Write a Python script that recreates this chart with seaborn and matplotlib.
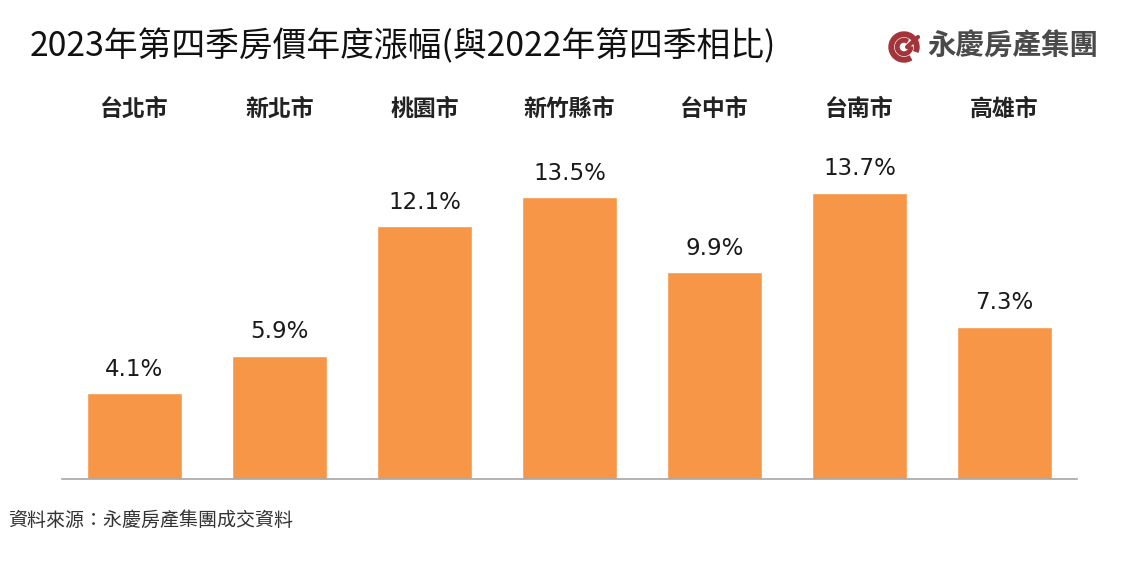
import matplotlib
matplotlib.use("Agg")
import matplotlib.pyplot as plt
import seaborn as sns
import pandas as pd
from matplotlib.patches import Wedge

cities = ["台北市", "新北市", "桃園市", "新竹縣市", "台中市", "台南市", "高雄市"]
growth = [4.1, 5.9, 12.1, 13.5, 9.9, 13.7, 7.3]
value_labels = ["4.1%", "5.9%", "12.1%", "13.5%", "9.9%", "13.7%", "7.3%"]
title = "2023年第四季房價年度漲幅(與2022年第四季相比)"
source = "資料來源：永慶房產集團成交資料"
brand = "永慶房產集團"

sns.set_theme(style="white")
plt.rcParams['font.family'] = ['Noto Sans CJK TC', 'DejaVu Sans']

df = pd.DataFrame({"city": cities, "growth": growth})

fig = plt.figure(figsize=(11.38, 5.70), dpi=100)
ax = fig.add_axes([62/1138, 1-479/570, (1077-62)/1138, (479-140)/570])
sns.barplot(data=df, x="city", y="growth", color="#F79646", width=0.66,
            saturation=1, ax=ax)
ax.set_xlim(-0.5, 6.5)
ax.set_ylim(0, (479-140)/20.88)
ax.set_xlabel("")
ax.set_ylabel("")
ax.set_yticks([])
ax.set_xticks([])
for s in ["top", "right", "left"]:
    ax.spines[s].set_visible(False)
ax.spines["bottom"].set_color("#A6A6A6")
ax.spines["bottom"].set_linewidth(1.2)

for i, (v, lab) in enumerate(zip(growth, value_labels)):
    ax.annotate(lab, (i, v), xytext=(0, 24), textcoords="offset pixels",
                ha="center", va="center", fontsize=16.5, color="#1a1a1a",
                family=["DejaVu Sans"])
    ax.annotate(cities[i], (i, 1), xycoords=("data", "axes fraction"),
                xytext=(0, 31), textcoords="offset pixels",
                ha="center", va="center", fontsize=16.5, color="#222222",
                fontweight="bold")

fig.text(30/1138, 1-47/570, title, ha="left", va="center", fontsize=24.3,
         color="#111111", fontweight="medium")
fig.text(8/1138, 1-520/570, source, ha="left", va="center", fontsize=13.7,
         color="#333333")

# logo
cx, cy = 904, 47
red = "#A3343A"
lax = fig.add_axes([0, 0, 1, 1], facecolor="none")
lax.set_xlim(0, 1138)
lax.set_ylim(570, 0)
lax.axis("off")
lax.add_patch(Wedge((cx, cy), 15, 60, 20, width=4.5, color=red))
lax.add_patch(Wedge((cx, cy), 8.5, 0, 300, width=3.5, color=red))
lax.plot([cx + 3, cx + 14], [cy, cy - 10], color=red, lw=3)
fig.text(927/1138, 1-47/570, brand, ha="left", va="center", fontsize=20.5,
         color="#4a4a4a", fontweight="bold")

fig.savefig("out.png", dpi=100, facecolor="white")
